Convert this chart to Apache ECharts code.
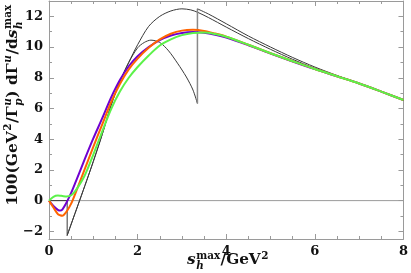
<!DOCTYPE html>
<html><head><meta charset="utf-8">
<script src="https://cdn.jsdelivr.net/npm/echarts@6/dist/echarts.min.js"></script>
<style>html,body{margin:0;padding:0;background:#fff}#c{width:411px;height:273px}</style>
</head><body><div id="c"></div>
<script>
// ---- data ----
const xTicks = [0, 2, 4, 6, 8];
const yTicks = [-2, 0, 2, 4, 6, 8, 10, 12];
const yMinorTicks = [-1, 1, 3, 5, 7, 9, 11];

const colorX  = [0,0.1,0.2,0.25,0.3,0.4,0.5,0.6,0.8,1.0,1.2,1.4,1.6,1.8,2.0,2.25,2.5,2.75,3.0,3.25,3.5,3.75,4.0,4.5,5.0,5.5,6.0,6.5,7.0,7.5,8.0];
const purpleY = [0,-0.35,-0.6,-0.65,-0.58,-0.1,0.5,1.2,2.65,4.05,5.35,6.7,7.85,8.75,9.4,10.0,10.45,10.75,10.92,10.98,10.93,10.8,10.62,10.12,9.58,9.06,8.56,8.1,7.63,7.1,6.55];
const orangeY = [0,-0.45,-0.88,-0.95,-0.98,-0.7,-0.2,0.5,2.0,3.5,4.95,6.4,7.6,8.55,9.25,9.95,10.5,10.87,11.07,11.12,11.05,10.88,10.68,10.15,9.6,9.08,8.57,8.1,7.63,7.1,6.55];
const greenY  = [0,0.25,0.33,0.32,0.3,0.27,0.35,0.65,1.6,3.0,4.5,5.95,7.1,8.0,8.7,9.45,10.1,10.5,10.78,10.92,10.95,10.85,10.67,10.15,9.6,9.08,8.57,8.1,7.63,7.1,6.55];

const blackStepX = [0, 0.41, 0.41];
const blackStepY = [0, 0, -2.27];
const blackUpperX = [0.41,0.55,0.69,0.85,1.0,1.2,1.4,1.6,1.8,2.0,2.25,2.5,2.75,3.0,3.2,3.35,3.6,4.0,4.5,5.0,5.5,6.0,6.5,7.0,7.5,8.0];
const blackUpperY = [-2.27,-1.13,0,1.3,2.55,4.3,6.2,7.75,9.0,10.15,11.35,12.0,12.35,12.49,12.42,12.27,11.92,11.3,10.55,9.85,9.2,8.62,8.12,7.63,7.1,6.55];
const blackHumpX = [0.41,0.55,0.69,0.85,1.0,1.2,1.4,1.6,1.8,2.0,2.15,2.3,2.5,2.7,2.9,3.1,3.25,3.35];
const blackHumpY = [-2.27,-1.13,0,1.3,2.55,4.3,6.2,7.75,9.0,9.95,10.3,10.45,10.3,9.75,8.95,8.05,7.2,6.32];
const blackJumpX = [3.35, 3.35];
const blackJumpY = [6.32, 12.49];
const blackTailX = [3.35,3.6,4.0,4.5,5.0,5.5,6.0,6.5,7.0,7.5,8.0];
const blackTailY = [12.49,12.15,11.52,10.72,10.0,9.32,8.7,8.15,7.63,7.1,6.55];
const zeroX = [0, 8];
const zeroY = [0, 0];

// ---- chart ----
const pairs = (xs, ys) => xs.map((x, i) => [x, ys[i]]);
const GRAY = '#9a9a9a';
const FAM = '"DejaVu Serif", serif';
const tickFont = {fontFamily: FAM, fontWeight: 'bold', fontSize: 13, color: '#111'};

const chart = echarts.init(document.getElementById('c'));

function xAx(pos, labels) {
  return {
    type: 'value', min: 0, max: 8, interval: 2, position: pos,
    axisLine: {show: true, onZero: false, lineStyle: {color: GRAY, width: 1}},
    axisTick: {show: true, inside: true, length: 5, lineStyle: {color: GRAY}},
    minorTick: {show: true, splitNumber: 4, length: 3, lineStyle: {color: GRAY}},
    splitLine: {show: false},
    axisLabel: labels ? Object.assign({show: true, margin: 6}, tickFont) : {show: false}
  };
}
function yAx(pos, vals, len, labels, line) {
  return {
    type: 'value', min: -2.5, max: 13, position: pos, offset: 0,
    axisLine: {show: line, onZero: false, lineStyle: {color: GRAY, width: 1}},
    axisTick: {show: true, inside: true, length: len, customValues: vals, lineStyle: {color: GRAY}},
    splitLine: {show: false},
    axisLabel: labels ? Object.assign({show: true, margin: 6, customValues: vals,
      formatter: v => String(v).replace('-', '\u2212')}, tickFont) : {show: false}
  };
}

function line(data, color, width, smooth, z) {
  return {type: 'line', data: data, symbol: 'none', smooth: smooth, silent: true, z: z,
    lineStyle: {color: color, width: width}, animation: false};
}

// math-style axis titles laid out from measured text widths
const mctx = document.createElement('canvas').getContext('2d');
function tw(t, font) { mctx.font = font; return mctx.measureText(t).width; }
function mathText(parts, S) {
  const s = Math.round(S * 0.68 * 10) / 10;
  const F = (sz, it) => (it ? 'italic ' : '') + 'bold ' + sz + 'px ' + FAM;
  const kids = [];
  let x = 0;
  const put = (t, sz, it, bx, by) => {
    kids.push({type: 'text', x: bx, y: by - 0.36 * sz, silent: true,
      style: {text: t, font: F(sz, it), fill: '#111', align: 'left', verticalAlign: 'middle'}});
    return tw(t, F(sz, it));
  };
  parts.forEach(p => {
    if (p.sup !== undefined || p.sub !== undefined) {
      let w1 = 0, w2 = 0;
      if (p.sup !== undefined) w1 = put(p.sup, s, p.supIt, x + 0.5, -0.42 * S);
      if (p.sub !== undefined) w2 = put(p.sub, s, p.subIt, x + 0.5, 0.24 * S);
      x += Math.max(w1, w2) + 1;
    } else {
      x += put(p.t, S, p.it, x, 0);
    }
  });
  return {kids: kids, width: x};
}
const xTitleParts = [{t: 's', it: true}, {sup: 'max', sub: 'h', subIt: true}, {t: '/GeV'}, {sup: '2'}];
const yTitleParts = [{t: '100(GeV'}, {sup: '2'}, {t: '/Γ'}, {sup: 'u', supIt: true, sub: 'p', subIt: true},
  {t: ') dΓ'}, {sup: 'u', supIt: true}, {t: '/d'}, {t: 's', it: true}, {sup: 'max', sub: 'h', subIt: true}];

function fitSize(parts, target) {
  const w0 = mathText(parts, 14).width;
  return 14 * target / w0;
}
const xs = Math.min(16, fitSize(xTitleParts, 82));
const ys = Math.min(16, fitSize(yTitleParts, 202));
const xT = mathText(xTitleParts, xs);
const yT = mathText(yTitleParts, ys);

chart.setOption({
  animation: false,
  grid: {left: 49, right: 4, top: 1, bottom: 34, show: false},
  xAxis: [xAx('bottom', true), xAx('top', false)],
  yAxis: [
    yAx('left', yTicks, 5, true, true),
    yAx('left', yMinorTicks, 3, false, false),
    yAx('right', yTicks, 5, false, true),
    yAx('right', yMinorTicks, 3, false, false)
  ],
  series: [
    line(pairs(zeroX, zeroY), GRAY, 1, false, 1),
    line(pairs(blackStepX, blackStepY), '#3a3a3a', 1, false, 2),
    line(pairs(blackUpperX, blackUpperY), '#3a3a3a', 1, 0.3, 2),
    line(pairs(blackHumpX, blackHumpY), '#3a3a3a', 1, 0.3, 2),
    line(pairs(blackJumpX, blackJumpY), '#8a8a8a', 1.5, false, 2),
    line(pairs(blackTailX, blackTailY), '#3a3a3a', 1, 0.3, 2),
    line(pairs(colorX, purpleY), '#7000d0', 2, 0.3, 3),
    line(pairs(colorX, orangeY), '#ff6400', 2, 0.3, 4),
    line(pairs(colorX, greenY), '#5cf24a', 2, 0.3, 5)
  ],
  graphic: [
    {type: 'group', x: 228 - xT.width / 2, y: 266, children: xT.kids},
    {type: 'group', x: 19, y: 105 + yT.width / 2, rotation: Math.PI / 2, children: yT.kids}
  ]
});
</script>
</body></html>
